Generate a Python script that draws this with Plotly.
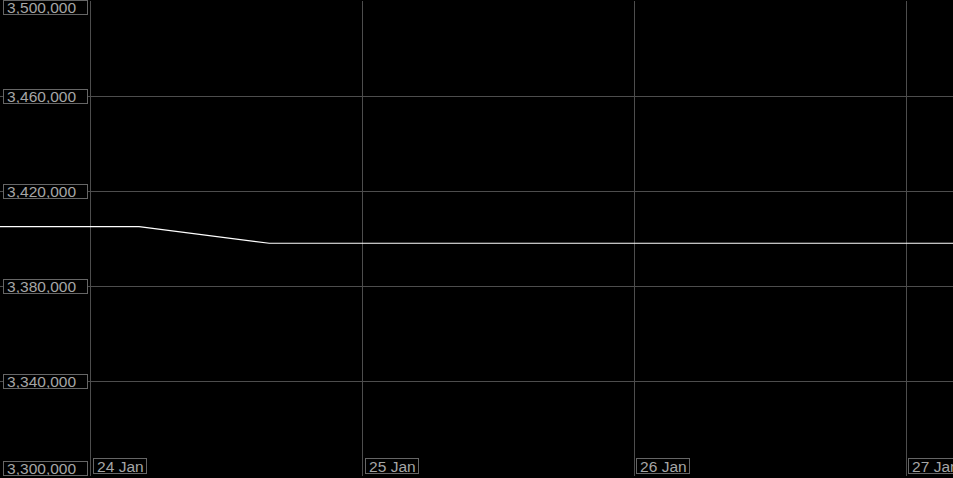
import plotly.graph_objects as go

times = ["2024-01-23 15:00", "2024-01-24 04:15", "2024-01-24 15:45", "2024-01-27 06:00"]
values = [3405000, 3405000, 3398000, 3398000]

y_ticks = [3300000, 3340000, 3380000, 3420000, 3460000, 3500000]
x_ticks = ["2024-01-24", "2024-01-25", "2024-01-26", "2024-01-27"]
x_labels = ["24 Jan", "25 Jan", "26 Jan", "27 Jan"]

grid = "#4d4d4d"
label_color = "#a6a6a6"
font = dict(family="Arial, Liberation Sans, sans-serif", size=15.5, color=label_color)

fig = go.Figure()
fig.add_trace(go.Scatter(x=times, y=values, mode="lines",
                         line=dict(color="#ffffff", width=1.2), hoverinfo="skip"))

# boxed labels drawn as annotations, a thin space gives the left padding
annotations = []
for v in y_ticks:
    anchor, shift = "middle", 0
    if v == y_ticks[-1]:
        anchor, shift = "top", 1
    elif v == y_ticks[0]:
        anchor, shift = "bottom", 0
    annotations.append(dict(
        x=0, xref="paper", xanchor="left", xshift=3,
        y=v, yref="y", yanchor=anchor, yshift=shift,
        text="\u2009" + f"{v:,}", showarrow=False, font=font, align="left", valign="middle",
        width=83, height=13, bgcolor="#000000", bordercolor="#666666",
        borderwidth=1, borderpad=0,
    ))
for x, lab in zip(x_ticks, x_labels):
    annotations.append(dict(
        x=x, xref="x", xanchor="left", xshift=2,
        y=0, yref="paper", yanchor="bottom", yshift=2,
        text="\u2009" + lab, showarrow=False, font=font, align="left", valign="middle",
        width=52, height=14, bgcolor="#000000", bordercolor="#666666",
        borderwidth=1, borderpad=0,
    ))

fig.update_layout(
    width=953, height=478,
    margin=dict(l=0, r=0, t=1, b=2),
    paper_bgcolor="#000000", plot_bgcolor="#000000",
    showlegend=False,
    annotations=annotations,
    xaxis=dict(range=["2024-01-23 15:58", "2024-01-27 04:09"], tickvals=x_ticks,
               showticklabels=False, showgrid=True, gridcolor=grid, gridwidth=1,
               zeroline=False, showline=False),
    yaxis=dict(range=[3300000, 3500000], tickvals=y_ticks, showticklabels=False,
               showgrid=True, gridcolor=grid, gridwidth=1, zeroline=False, showline=False),
)

fig.write_html("out.html", config={"displayModeBar": False},
               post_script="document.body.style.margin='0';document.body.style.background='#000';")
